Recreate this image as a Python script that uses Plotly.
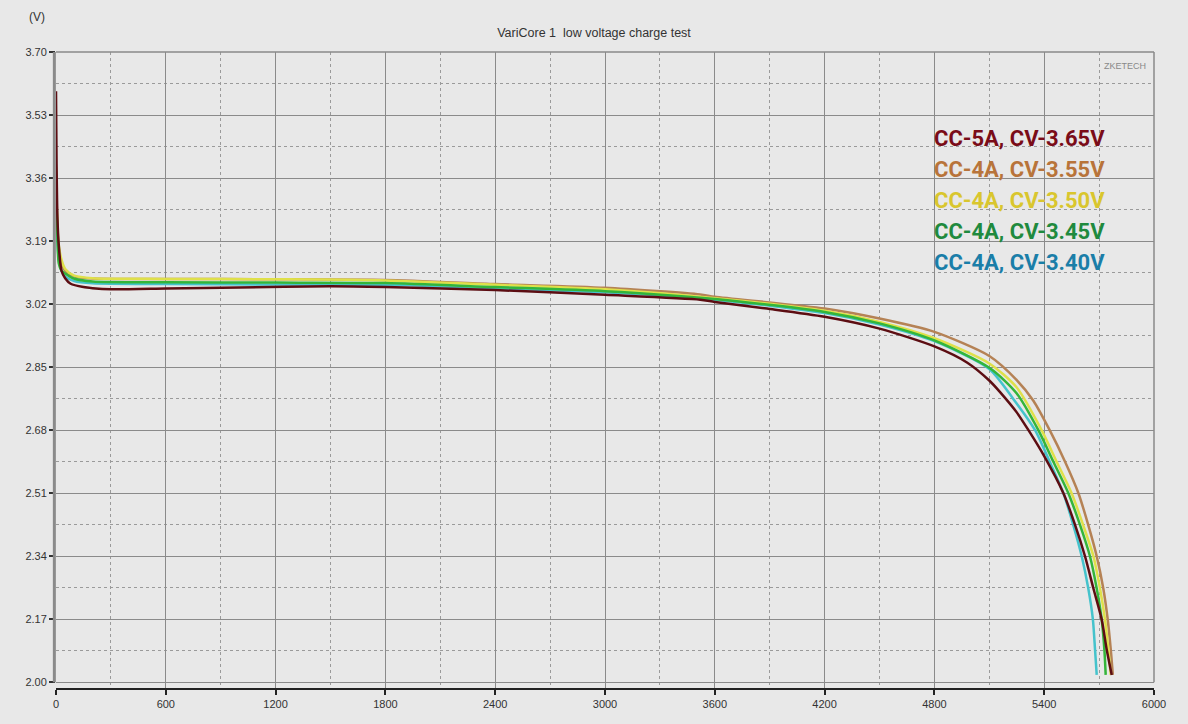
import plotly.graph_objects as go

# ---------------- data ----------------
series_names = ["CC-5A, CV-3.65V", "CC-4A, CV-3.55V", "CC-4A, CV-3.50V",
                "CC-4A, CV-3.45V", "CC-4A, CV-3.40V"]

t_cv365 = [0, 3, 8, 15, 30, 50, 80, 150, 200, 300, 600, 1000, 1500, 1800, 2400, 3000,
           3520, 3600, 3885, 4200, 4500, 4800, 4980, 5100, 5160, 5250, 5314, 5400,
           5505, 5569, 5623, 5669, 5714, 5742, 5769]
v_cv365 = [3.594, 3.40, 3.25, 3.18, 3.11, 3.09, 3.075, 3.066, 3.063, 3.060, 3.062, 3.065,
           3.068, 3.066, 3.058, 3.045, 3.032, 3.026, 3.008, 2.986, 2.954, 2.906, 2.862,
           2.814, 2.782, 2.728, 2.680, 2.610, 2.510, 2.424, 2.340, 2.253, 2.170, 2.087, 2.020]

t_cv355 = [0, 3, 8, 15, 30, 50, 100, 200, 600, 1200, 1800, 2400, 3000, 3520, 3600, 4200,
           4500, 4800, 5100, 5250, 5340, 5430, 5514, 5587, 5641, 5687, 5723, 5747, 5764, 5775]
v_cv355 = [3.38, 3.30, 3.22, 3.17, 3.13, 3.11, 3.095, 3.089, 3.088, 3.087, 3.085, 3.074,
           3.064, 3.046, 3.040, 3.008, 2.981, 2.945, 2.880, 2.815, 2.760, 2.680, 2.595,
           2.510, 2.424, 2.340, 2.253, 2.170, 2.087, 2.020]

t_cv350 = [0, 3, 8, 15, 30, 50, 100, 200, 600, 1200, 1800, 2400, 3000, 3600, 4200, 4500,
           4800, 5100, 5250, 5386, 5468, 5550, 5613, 5669, 5705, 5732, 5751, 5764]
v_cv350 = [3.39, 3.31, 3.23, 3.18, 3.14, 3.115, 3.097, 3.090, 3.088, 3.087, 3.084, 3.072,
           3.060, 3.036, 3.002, 2.972, 2.928, 2.860, 2.795, 2.680, 2.595, 2.510, 2.424,
           2.340, 2.253, 2.170, 2.087, 2.020]

t_cv345 = [0, 3, 8, 15, 30, 43, 97, 200, 600, 1200, 1800, 2400, 3000, 3600, 4200, 4500,
           4800, 5104, 5250, 5368, 5450, 5532, 5596, 5650, 5687, 5714, 5729, 5736]
v_cv345 = [3.37, 3.29, 3.20, 3.13, 3.11, 3.105, 3.089, 3.081, 3.079, 3.078, 3.077, 3.066,
           3.055, 3.034, 2.999, 2.968, 2.922, 2.847, 2.779, 2.680, 2.595, 2.510, 2.424,
           2.340, 2.253, 2.170, 2.087, 2.020]

t_cv340 = [0, 3, 8, 15, 30, 50, 100, 200, 600, 1200, 1800, 2400, 3000, 3600, 4200, 4500,
           4800, 5100, 5230, 5350, 5430, 5505, 5559, 5605, 5641, 5666, 5678, 5687]
v_cv340 = [3.35, 3.27, 3.19, 3.14, 3.11, 3.095, 3.082, 3.076, 3.074, 3.073, 3.072, 3.063,
           3.052, 3.032, 2.996, 2.965, 2.920, 2.845, 2.765, 2.680, 2.595, 2.510, 2.424,
           2.340, 2.253, 2.170, 2.087, 2.020]

y_ticks = [2.00, 2.17, 2.34, 2.51, 2.68, 2.85, 3.02, 3.19, 3.36, 3.53, 3.70]
x_ticks = [0, 600, 1200, 1800, 2400, 3000, 3600, 4200, 4800, 5400, 6000]

line_colors = ["#5c0d12", "#b58255", "#dfe04a", "#34b53a", "#45c3cc"]
text_colors = ["#7a0c18", "#b8743a", "#d9c62e", "#1f8a3e", "#1a7ea8"]

# ---------------- figure ----------------
BG = "#e8e8e8"
fig = go.Figure()

data = [(t_cv365, v_cv365), (t_cv355, v_cv355), (t_cv350, v_cv350),
        (t_cv345, v_cv345), (t_cv340, v_cv340)]
draw_order = [1, 2, 4, 3, 0]
for i in draw_order:
    t, v = data[i]
    fig.add_trace(go.Scatter(x=t, y=v, mode="lines", name=series_names[i],
                             line=dict(color=line_colors[i], width=2.5,
                                       shape="spline", smoothing=0.7),
                             showlegend=False))

# geometry (px)
W, H = 1188, 724
left, right, top, bottom = 55.5, 1154, 51.7, 688
plot_h = bottom - top
y_low = 2.00 - (bottom - 682.3) / (682.3 - 51.7) * 1.70

fig.update_layout(
    width=W, height=H,
    margin=dict(l=left, r=W - right, t=top, b=H - bottom, pad=0, autoexpand=False),
    paper_bgcolor=BG, plot_bgcolor=BG,
    font=dict(family="Liberation Sans, Arial, sans-serif", color="#222", size=11),
    title=dict(text="VariCore 1  low voltage charge test", x=0.5, xanchor="center",
               xref="container", yref="container",
               y=1 - 33 / H, yanchor="middle", automargin=False,
               font=dict(size=12.5, color="#333", family="Liberation Sans, Arial, sans-serif")),
    xaxis=dict(range=[0, 6000], tickmode="array", tickvals=x_ticks,
               ticktext=[str(x) for x in x_ticks], automargin=False,
               showgrid=True, gridcolor="#8a8a8a", gridwidth=1,
               showline=True, linecolor="#222", linewidth=2, mirror=False,
               ticks="outside", ticklen=5, tickcolor="#222", tickwidth=1.5,
               tickfont=dict(size=11, color="#333"), zeroline=False,
               minor=dict(dtick=300, tick0=0, showgrid=True, gridcolor="#9a9a9a",
                          griddash="dot", gridwidth=1, ticks="")),
    yaxis=dict(range=[y_low, 3.70], tickmode="array", tickvals=y_ticks,
               ticktext=[f"{y:.2f}" for y in y_ticks], automargin=False,
               showgrid=True, gridcolor="#8a8a8a", gridwidth=1,
               showline=False, zeroline=False,
               ticks="outside", ticklen=6, tickcolor="#333", tickwidth=1.5,
               tickfont=dict(size=11, color="#333"),
               minor=dict(tickvals=[y + 0.085 for y in y_ticks[:-1]], showgrid=True,
                          gridcolor="#9a9a9a", griddash="dot", gridwidth=1, ticks="")),
)

# frame: y axis double line, top & right border
fig.add_shape(type="line", xref="paper", yref="y", x0=-0.0015, x1=-0.0015,
              y0=2.00, y1=3.70, line=dict(color="#8a8a8a", width=3))
fig.add_shape(type="line", xref="paper", yref="paper", x0=0, x1=1, y0=1, y1=1,
              line=dict(color="#8a8a8a", width=1.5))
fig.add_shape(type="line", xref="paper", yref="paper", x0=1, x1=1,
              y0=(bottom - 682.3) / plot_h, y1=1, line=dict(color="#8a8a8a", width=1.5))

def py(px):
    return (bottom - px) / plot_h

def pxx(px):
    return (px - left) / (right - left)

# unit label
fig.add_annotation(text="(V)", xref="paper", yref="paper", x=pxx(36), y=py(17),
                   xanchor="center", yanchor="middle",
                   showarrow=False, font=dict(size=12, color="#333"))
# watermark
fig.add_annotation(text="ZKETECH", xref="paper", yref="paper", x=pxx(1148), y=py(66),
                   xanchor="right", yanchor="middle", showarrow=False,
                   font=dict(size=9, color="#888"))

# legend text
for k, name in enumerate(series_names):
    fig.add_annotation(text=f"<b>{name}</b>", xref="paper", yref="paper",
                       x=pxx(932), y=py(138 + 31 * k), xanchor="left", yanchor="middle",
                       showarrow=False,
                       font=dict(size=22, color=text_colors[k],
                                 family="Roboto, Noto Sans, sans-serif"))

fig.write_html(
    "out.html",
    config={"displayModeBar": False},
    post_script="document.body.style.margin='0';document.body.style.background='#e8e8e8';",
)
